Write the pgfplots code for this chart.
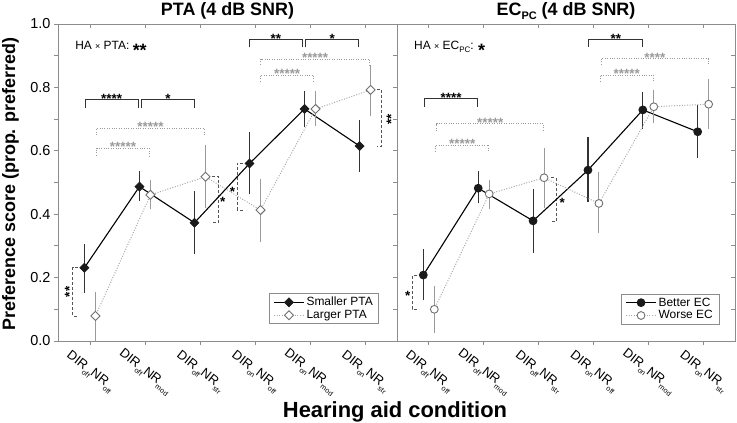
\documentclass[border=0pt]{standalone}
\usepackage{pgfplots}
\pgfplotsset{compat=1.18}
\usepackage{pgfplotstable}
\usepackage{fontspec}
\setmainfont{Liberation Sans}

\definecolor{mk}{HTML}{1A1A1A}
\definecolor{ebd}{HTML}{333333}
\definecolor{ebg}{HTML}{9A9A9A}
\definecolor{lng}{HTML}{A8A8A8}
\definecolor{mkg}{HTML}{707070}
\definecolor{frm}{HTML}{8C8C8C}
\definecolor{brk}{HTML}{333333}
\definecolor{brg}{HTML}{9A9A9A}
\definecolor{vds}{HTML}{555555}

\newcommand{\sub}[1]{\raisebox{-4.2bp}{\fontsize{7.2}{8}\selectfont #1}}
\newcommand{\lab}[2]{DIR\sub{#1}NR\sub{#2}}

% x = condition index, y = mean, hi/lo = error-bar ends
\pgfplotstableread{
x y hi lo
1 0.231 0.297 0.161
2 0.487 0.526 0.450
3 0.373 0.464 0.284
4 0.560 0.650 0.471
5 0.732 0.779 0.685
6 0.615 0.687 0.543
}\ptasmall
\pgfplotstableread{
x y hi lo
1 0.079 0.147 0.010
2 0.461 0.500 0.424
3 0.518 0.610 0.429
4 0.413 0.503 0.322
5 0.732 0.779 0.687
6 0.792 0.863 0.720
}\ptalarge
\pgfplotstableread{
x y hi lo
1 0.208 0.282 0.137
2 0.482 0.526 0.443
3 0.379 0.471 0.285
4 0.539 0.636 0.447
5 0.729 0.776 0.678
6 0.660 0.736 0.587
}\ecbetter
\pgfplotstableread{
x y hi lo
1 0.100 0.166 0.035
2 0.464 0.500 0.426
3 0.515 0.600 0.429
4 0.434 0.524 0.348
5 0.739 0.783 0.695
6 0.747 0.818 0.678
}\ecworse

\tikzset{
  stars/.style={font=\fontsize{13.5}{14}\selectfont\bfseries, inner sep=0pt, anchor=center, yshift=-2.7bp},
  vstars/.style={font=\fontsize{13.5}{14}\selectfont\bfseries, inner sep=0pt, anchor=center, xshift=2.7bp, rotate=90},
}
% horizontal brackets: x1 x2 ytop ylow starx stary text
\newcommand{\hbk}[7]{%
  \draw[brk, line width=0.9bp] (axis cs:#1,#4) -- (axis cs:#1,#3) -- (axis cs:#2,#3) -- (axis cs:#2,#4);
  \node[stars, text=black] at (axis cs:#5,#6) {#7};}
\newcommand{\hbg}[7]{%
  \draw[brg, line width=0.9bp, dash pattern=on 1bp off 1.4bp] (axis cs:#1,#4) -- (axis cs:#1,#3) -- (axis cs:#2,#3) -- (axis cs:#2,#4);
  \node[stars, text=brg] at (axis cs:#5,#6) {#7};}
% vertical dashed bracket: x xleg y1 y2
\newcommand{\vbr}[4]{%
  \draw[vds, line width=0.9bp, dash pattern=on 3bp off 2bp] (axis cs:#2,#3) -- (axis cs:#1,#3) -- (axis cs:#1,#4) -- (axis cs:#2,#4);}

\pgfplotsset{
  panel/.style={
    scale only axis, width=#1, height=317bp,
    xmin=0.42, xmax=6.58, ymin=0, ymax=1,
    clip=false,
    axis line style={draw=frm, line width=0.8bp},
    tick style={draw=frm, line width=0.8bp},
    major tick length=4bp, minor tick length=4bp,
    xtick={1,2,3,4,5,6},
    ytick={0,0.2,0.4,0.6,0.8,1},
    minor ytick={0.1,0.3,0.5,0.7,0.9},
  },
  mainp/.style={
    panel=#1, tick align=outside, xtick pos=left, ytick pos=left,
    xticklabels={\lab{off}{off},\lab{off}{mod},\lab{off}{str},\lab{on}{off},\lab{on}{mod},\lab{on}{str}},
    xticklabel style={font=\fontsize{13}{14}\selectfont, anchor=center, yshift=-27bp, rotate=-38},
    yticklabel style={font=\fontsize{14.5}{16}\selectfont},
    legend cell align=left,
  },
  overp/.style={
    panel=#1, tick align=inside, xtick pos=right, ytick pos=right,
    xticklabels={}, yticklabels={},
  },
  fser/.style={color=black, line width=1.1bp, solid, mark=square*, mark size=3.2bp,
    mark options={rotate=45, fill=mk, draw=mk, solid, line width=0.6bp}},
  oser/.style={color=lng, line width=1bp, dash pattern=on 1bp off 1.6bp, mark=square*, mark size=3.2bp,
    mark options={rotate=45, fill=white, draw=mkg, solid, line width=0.9bp}},
  febar/.style={error bars/.cd, y dir=both, y explicit,
    error bar style={color=ebd, line width=1.1bp, solid},
    error mark options={color=ebd, mark size=2.8bp, line width=1.1bp, solid}},
  oebar/.style={error bars/.cd, y dir=both, y explicit,
    error bar style={color=ebg, line width=1bp, solid},
    error mark options={color=ebg, mark size=2.8bp, line width=1bp, solid}},
}

\begin{document}
\begin{tikzpicture}
\useasboundingbox (0,0) rectangle (737bp,423bp);

% ---------------- left panel ----------------
\begin{axis}[mainp=339bp, at={(58bp,82bp)}, anchor=south west,
  yticklabels={0.0,0.2,0.4,0.6,0.8,1.0},
  legend style={at={(0.947,0.054)}, anchor=south east, draw=frm, line width=0.6bp, fill=white,
    font=\fontsize{12}{13}\selectfont, inner xsep=4bp, inner ysep=1.5bp, row sep=-1bp},
  legend image code/.code={\draw[mark repeat=2,mark phase=2,#1] plot coordinates {(0bp,0bp) (15bp,0bp) (30bp,0bp)};},
]
\hbk{0.911}{1.875}{0.762}{0.735}{1.393}{0.773}{****}
\hbk{1.942}{2.893}{0.762}{0.735}{2.418}{0.773}{*}
\hbg{1.124}{3.075}{0.671}{0.650}{2.100}{0.684}{*****}
\hbg{1.124}{2.075}{0.608}{0.584}{1.600}{0.621}{*****}
\hbk{3.898}{4.862}{0.952}{0.926}{4.380}{0.963}{**}
\hbk{4.924}{5.880}{0.952}{0.926}{5.402}{0.963}{*}
\hbg{4.105}{6.080}{0.889}{0.871}{5.092}{0.902}{*****}
\hbg{4.105}{5.062}{0.839}{0.818}{4.584}{0.852}{*****}
\vbr{0.687}{0.789}{0.231}{0.079}
\vbr{3.335}{3.215}{0.518}{0.373}
\vbr{3.680}{3.789}{0.560}{0.413}
\vbr{6.305}{6.215}{0.792}{0.615}
\node[vstars] at (axis cs:0.578,0.155) {**};
\node[stars] at (axis cs:3.415,0.448) {*};
\node[stars] at (axis cs:3.589,0.480) {*};
\node[vstars] at (axis cs:6.425,0.700) {**};
\node[anchor=base west, inner sep=0pt, font=\fontsize{12}{14}\selectfont] at (axis cs:0.73,0.921)
  {HA {\fontsize{9}{9}\selectfont×} PTA: \raisebox{-7bp}{\fontsize{18}{18}\selectfont\bfseries **}};

\addplot[fser, febar] table[x expr=\thisrow{x}-0.1, y=y,
  y error plus expr=\thisrow{hi}-\thisrow{y}, y error minus expr=\thisrow{y}-\thisrow{lo}] {\ptasmall};
\addplot[oser, oebar] table[x expr=\thisrow{x}+0.1, y=y,
  y error plus expr=\thisrow{hi}-\thisrow{y}, y error minus expr=\thisrow{y}-\thisrow{lo}] {\ptalarge};
\legend{Smaller PTA, Larger PTA}
\end{axis}
\begin{axis}[overp=339bp, at={(58bp,82bp)}, anchor=south west]
\end{axis}

% ---------------- right panel ----------------
\begin{axis}[mainp=338bp, at={(397bp,82bp)}, anchor=south west,
  yticklabels={},
  legend style={at={(0.953,0.053)}, anchor=south east, draw=frm, line width=0.6bp, fill=white,
    font=\fontsize{12}{13}\selectfont, inner xsep=4bp, inner ysep=1.5bp, row sep=-1bp},
  legend image code/.code={\draw[mark repeat=2,mark phase=2,#1] plot coordinates {(0bp,0bp) (15bp,0bp) (30bp,0bp)};},
]
\hbk{0.929}{1.887}{0.765}{0.739}{1.408}{0.776}{****}
\hbg{1.142}{3.093}{0.685}{0.662}{2.118}{0.698}{*****}
\hbg{1.124}{2.093}{0.618}{0.597}{1.608}{0.631}{*****}
\hbk{3.916}{4.898}{0.950}{0.928}{4.407}{0.961}{**}
\hbg{4.142}{6.093}{0.890}{0.871}{5.118}{0.903}{****}
\hbg{4.124}{5.093}{0.839}{0.818}{4.608}{0.852}{*****}
\vbr{0.698}{0.778}{0.206}{0.100}
\vbr{3.324}{3.233}{0.515}{0.376}
\node[stars] at (axis cs:0.615,0.150) {*};
\node[stars] at (axis cs:3.433,0.443) {*};
\node[anchor=base west, inner sep=0pt, font=\fontsize{12}{14}\selectfont] at (axis cs:0.73,0.921)
  {HA {\fontsize{9}{9}\selectfont×} EC\raisebox{-3bp}{\fontsize{8}{8}\selectfont PC}: \raisebox{-7bp}{\fontsize{18}{18}\selectfont\bfseries *}};

\addplot[fser, mark=*, mark size=3.8bp, mark options={fill=mk, draw=mk, solid}, febar]
  table[x expr=\thisrow{x}-0.1, y=y,
  y error plus expr=\thisrow{hi}-\thisrow{y}, y error minus expr=\thisrow{y}-\thisrow{lo}] {\ecbetter};
\addplot[oser, mark=*, mark size=3.9bp, mark options={fill=white, draw=mkg, solid, line width=0.9bp}, oebar]
  table[x expr=\thisrow{x}+0.1, y=y,
  y error plus expr=\thisrow{hi}-\thisrow{y}, y error minus expr=\thisrow{y}-\thisrow{lo}] {\ecworse};
\legend{Better EC, Worse EC}
\end{axis}
\begin{axis}[overp=338bp, at={(397bp,82bp)}, anchor=south west]
\end{axis}

% ---------------- titles and labels ----------------
\node[anchor=base, inner sep=0pt, font=\fontsize{18}{20}\selectfont\bfseries] at (227.5bp,407.5bp) {PTA (4 dB SNR)};
\node[anchor=base, inner sep=0pt, font=\fontsize{18}{20}\selectfont\bfseries] at (566bp,407.5bp)
  {EC\raisebox{-4bp}{\fontsize{11}{11}\selectfont PC} (4 dB SNR)};
\node[rotate=90, anchor=base, inner sep=0pt, font=\fontsize{18}{20}\selectfont\bfseries] at (15bp,239bp)
  {Preference score (prop. preferred)};
\node[anchor=base, inner sep=0pt, font=\fontsize{22}{24}\selectfont\bfseries] at (395bp,6bp) {Hearing aid condition};
\end{tikzpicture}
\end{document}
